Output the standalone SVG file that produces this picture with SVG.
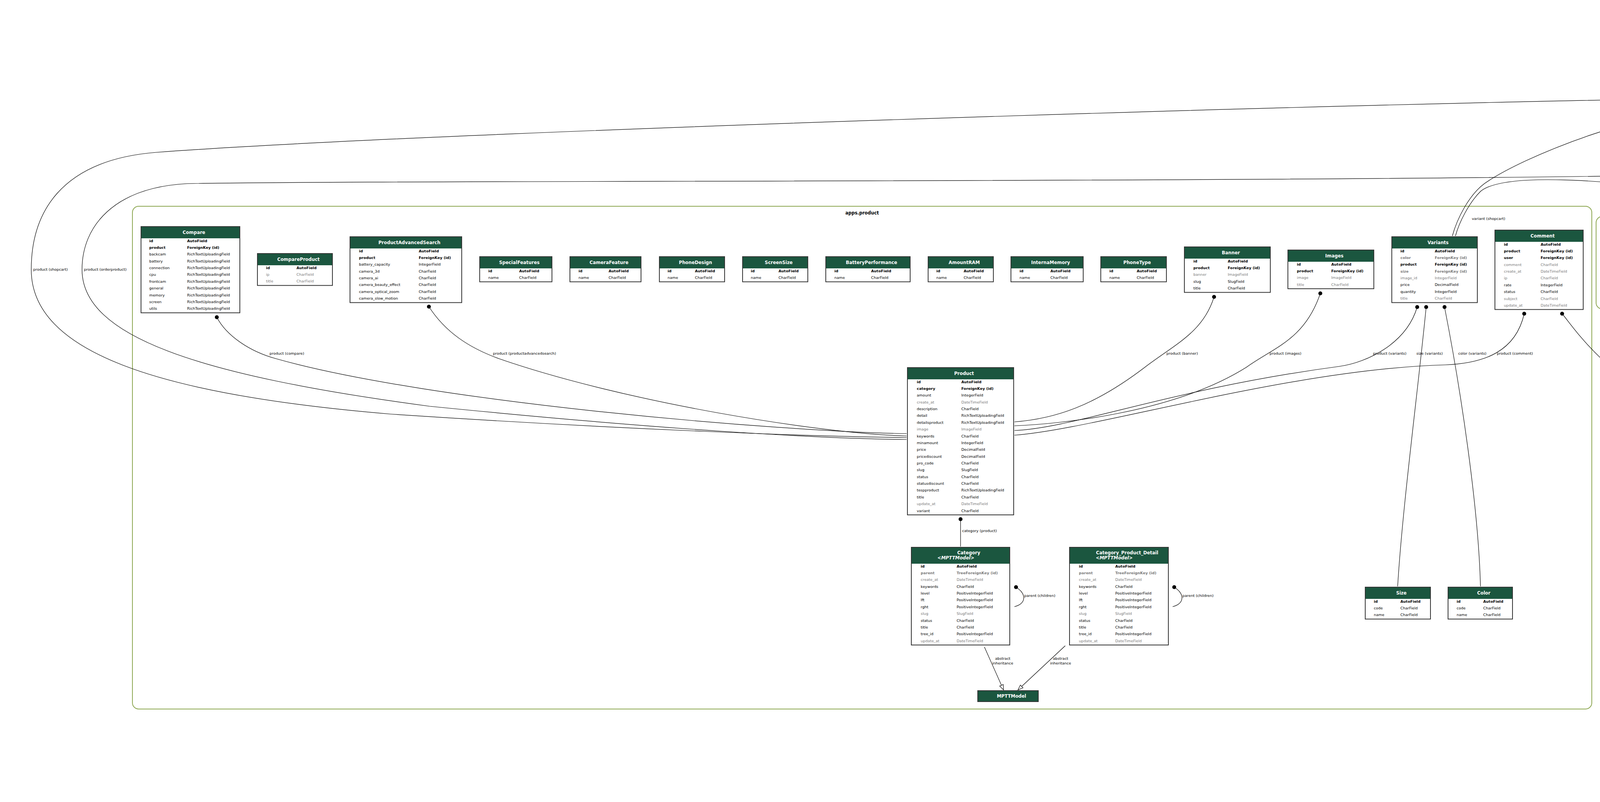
<svg xmlns="http://www.w3.org/2000/svg" width="7843" height="2053" viewBox="0 0 7843 2053">
<defs>
<style>
.r,.rb,.rg,.rbg,.ri,.rig,.rbi,.lb{font-family:"DejaVu Sans",Verdana,sans-serif;font-size:9.5px;fill:#000}
.rb,.rbg,.rbi{font-weight:bold}
.rg,.rbg,.rig{fill:#7b7b7b}
.ri,.rig,.rbi{font-style:italic}
.h{font-family:"DejaVu Sans",Verdana,sans-serif;font-size:11.5px;font-weight:bold;fill:#fff;text-anchor:middle}
.h2{font-family:"DejaVu Sans",Verdana,sans-serif;font-size:12.5px;fill:#fff;text-anchor:middle}
.cl{font-family:"DejaVu Sans",Verdana,sans-serif;font-size:11.5px;font-weight:bold;fill:#000;text-anchor:middle}
.box{fill:#fff;stroke:#333;stroke-width:2}
.hd{fill:#1b563f}
.hbox{fill:#1b563f;stroke:#333;stroke-width:2}
.cluster{fill:none;stroke:#8ea853;stroke-width:2}
.e{fill:none;stroke:#000;stroke-width:1.2}
.lm{text-anchor:middle}
</style>
<marker id="dot" markerUnits="userSpaceOnUse" markerWidth="12" markerHeight="12" refX="6" refY="6" viewBox="0 0 12 12"><circle cx="6" cy="6" r="5" fill="#000"/></marker>
<marker id="inh" markerUnits="userSpaceOnUse" markerWidth="16" markerHeight="12" refX="14" refY="6" orient="auto" viewBox="0 0 16 12"><path d="M1,1 L14,6 L1,11 Z" fill="#fff" stroke="#000" stroke-width="1.2"/></marker>
</defs>
<rect x="0" y="0" width="7843" height="2053" fill="#fff"/>

<g id="clusters">
<rect class="cluster" x="339" y="528" width="3736" height="1287" rx="16"/>
<text class="cl" x="2207" y="549">apps.product</text>
<rect class="cluster" x="4432" y="16" width="823" height="869" rx="16"/>
<text class="cl" x="4843" y="37">apps.order</text>
<rect class="cluster" x="4086" y="554" width="336" height="237" rx="16"/>
<text class="cl" x="4254" y="575">django.contrib.admin</text>
<rect class="cluster" x="5266" y="537" width="294" height="271" rx="16"/>
<text class="cl" x="5413" y="557">apps.account</text>
<rect class="cluster" x="4661" y="960" width="718" height="889" rx="16"/>
<text class="cl" x="5020" y="981">django.contrib.auth</text>
<rect class="cluster" x="4299" y="1887" width="361" height="150" rx="16"/>
<text class="cl" x="4479" y="1906">django.contrib.contenttypes</text>
<rect class="cluster" x="5888" y="114" width="1317" height="659" rx="16"/>
<text class="cl" x="6546" y="135">social_django</text>
<rect class="cluster" x="7217" y="94" width="269" height="272" rx="16"/>
<text class="cl" x="7351" y="114">apps.home</text>
<rect class="cluster" x="7496" y="148" width="332" height="591" rx="16"/>
<text class="cl" x="7662" y="168">django.contrib.sessions</text>
</g>

<g id="edges">
<path class="e" marker-start="url(#dot)" d="M555,812 C580,860 640,900 706,918 C1100,1030 2000,1105 2321,1110"/>
<text class="lb" x="690" y="908">product (compare)</text>
<path class="e" marker-start="url(#dot)" d="M1098,785 C1140,850 1200,890 1277,918 C1600,1030 2100,1110 2321,1116"/>
<text class="lb" x="1262" y="908">product (productadvancedsearch)</text>
<path class="e" marker-start="url(#dot)" d="M3108,760 C3080,850 3010,880 2931,940 C2800,1040 2700,1072 2597,1080"/>
<text class="lb" x="2986" y="908">product (banner)</text>
<path class="e" marker-start="url(#dot)" d="M3380,751 C3340,870 3260,890 3191,940 C3000,1060 2700,1086 2597,1090"/>
<text class="lb" x="3250" y="908">product (images)</text>
<path class="e" marker-start="url(#dot)" d="M3628,786 C3600,880 3500,928 3428,938 C3000,995 2750,1096 2597,1102"/>
<text class="lb" x="3515" y="908">product (variants)</text>
<path class="e" marker-start="url(#dot)" d="M3651,786 C3630,1000 3590,1300 3578,1501"/>
<text class="lb" x="3626" y="908">size (variants)</text>
<path class="e" marker-start="url(#dot)" d="M3698,786 C3740,1000 3785,1300 3790,1501"/>
<text class="lb" x="3733" y="908">color (variants)</text>
<path class="e" marker-start="url(#dot)" d="M3902,803 C3880,900 3800,930 3700,934 C3300,945 2800,1100 2597,1114"/>
<text class="lb" x="3832" y="908">product (comment)</text>
<path class="e" marker-start="url(#dot)" d="M3999,803 C4030,840 4100,950 4270,1040 C4500,1110 4800,1122 4998,1127"/>
<text class="lb" x="4150" y="975">user (comment)</text>
<path class="e" marker-start="url(#dot)" d="M4254,786 L4254,1700 C4254,1820 4300,1890 4378,1938"/>
<text class="lb" x="4259" y="1528">content_type (logentry)</text>
<path class="e" marker-start="url(#dot)" d="M4320,786 C4340,820 4370,840 4393,860 C4550,980 4752,1040 4998,1105"/>
<text class="lb" x="4545" y="945">user (logentry)</text>
<path class="e" marker-start="url(#dot)" d="M4438,252 C4000,250 1200,330 400,390 C150,410 80,550 80,690 C80,900 400,1010 1000,1060 C1600,1100 2100,1118 2321,1120"/>
<text class="lb" x="85" y="693">product (shopcart)</text>
<path class="e" marker-start="url(#dot)" d="M4769,368 C4730,420 4710,438 4660,441 C3500,470 1000,460 480,470 C290,480 210,580 210,690 C210,860 500,960 1100,1040 C1700,1100 2100,1123 2321,1125"/>
<text class="lb" x="215" y="693">product (orderproduct)</text>
<path class="e" marker-start="url(#dot)" d="M4438,267 C4200,280 3900,400 3800,470 C3760,500 3730,560 3718,604"/>
<text class="lb" x="3768" y="563">variant (shopcart)</text>
<path class="e" marker-start="url(#dot)" d="M4769,368 C4720,440 4650,470 4600,474 C4500,490 4440,500 4400,495 C4100,460 3850,440 3790,490 C3760,520 3735,570 3726,604"/>
<text class="lb" x="4640" y="471">variant (orderproduct)</text>
<path class="e" marker-start="url(#dot)" d="M4595,317 C4640,420 4720,458 4800,456 C4900,454 4980,465 5010,500 C5080,600 5113,800 5113,1011"/>
<text class="lb" x="5112" y="692">user (shopcart)</text>
<path class="e" marker-start="url(#dot)" d="M4842,368 C4845,420 4850,470 4853,509"/>
<text class="lb" x="4856" y="471">order (orderproduct)</text>
<path class="e" marker-start="url(#dot)" d="M4898,368 C4930,420 4960,440 5010,450 C5300,475 5590,560 5590,760 C5590,960 5400,1070 5219,1095"/>
<text class="lb" x="5595" y="850">user (orderproduct)</text>
<path class="e" marker-start="url(#dot)" d="M5250,263 C5450,300 5660,420 5660,700 C5660,960 5420,1080 5219,1103"/>
<text class="lb" x="5665" y="640">user (orderwaitingpayment)</text>
<path class="e" marker-start="url(#dot)" d="M4972,881 C4990,920 5030,980 5042,1011"/>
<text class="lb" x="4992" y="907">user (order)</text>
<path class="e" d="M5338,796 C5300,850 5230,950 5192,1011"/>
<text class="lb" x="5262" y="907">user (userprofile)</text>
<path class="e" marker-start="url(#dot)" d="M6406,734 C6000,900 5500,1060 5219,1117"/>
<text class="lb" x="5790" y="945">user (social_auth)</text>
<path class="e" marker-start="url(#dot)" d="M4966,1829 C4800,1880 4650,1920 4578,1946"/>
<text class="lb" x="4855" y="1872">content_type (permission)</text>
<path class="e" marker-start="url(#dot)" d="M2459,1329 L2459,1399"/>
<text class="lb" x="2463" y="1362">category (product)</text>
<path class="e" marker-start="url(#dot)" d="M2601,1503 C2628,1520 2628,1545 2597,1553"/>
<text class="lb" x="2622" y="1528">parent (children)</text>
<path class="e" marker-start="url(#dot)" d="M3006,1503 C3033,1520 3033,1545 3002,1553"/>
<text class="lb" x="3027" y="1528">parent (children)</text>
<path class="e" marker-start="url(#dot)" marker-end="url(#dot)" d="M5109,1257 L5109,1484"/>
<text class="lb" x="5113" y="1362">groups (user)</text>
<path class="e" marker-start="url(#dot)" marker-end="url(#dot)" d="M5171,1257 C5200,1330 5230,1420 5240,1500 C5260,1600 5260,1660 5197,1725"/>
<text class="lb" x="5252" y="1528">user_permissions (user)</text>
<path class="e" marker-start="url(#dot)" marker-end="url(#dot)" d="M5109,1570 L5109,1723"/>
<text class="lb" x="5113" y="1695">permissions (group)</text>
<path class="e" marker-end="url(#inh)" d="M2520,1656 L2569,1766"/>
<text class="lb lm" x="2567" y="1689">abstract</text><text class="lb lm" x="2567" y="1701">inheritance</text>
<path class="e" marker-end="url(#inh)" d="M2727,1653 L2606,1766"/>
<text class="lb lm" x="2715" y="1689">abstract</text><text class="lb lm" x="2715" y="1701">inheritance</text>
<path class="e" marker-end="url(#inh)" d="M5024,1252 L4913,1417"/>
<text class="lb lm" x="4979" y="1356">abstract</text><text class="lb lm" x="4979" y="1368">inheritance</text>
<path class="e" marker-end="url(#inh)" d="M4673,1616 L4416,1769"/>
<text class="lb lm" x="4576" y="1689">abstract</text><text class="lb lm" x="4576" y="1701">inheritance</text>
<path class="e" marker-end="url(#inh)" d="M4715,1641 L4591,1769"/>
<text class="lb lm" x="4693" y="1689">abstract</text><text class="lb lm" x="4693" y="1701">inheritance</text>
<path class="e" marker-end="url(#inh)" d="M7014,334 C6980,450 6850,540 6676,621"/>
<text class="lb lm" x="6931" y="465">abstract</text><text class="lb lm" x="6931" y="477">inheritance</text>
<path class="e" marker-end="url(#inh)" d="M7662,301 L7662,655"/>
<text class="lb lm" x="7688" y="465">abstract</text><text class="lb lm" x="7688" y="477">inheritance</text>
</g>

<g id="node-Compare">
<rect class="box" x="361" y="580" width="253" height="220.7"/><rect class="hd" x="362" y="581" width="251" height="29"/>
<text class="h" x="496.5" y="598.5">Compare</text>
<text class="rb" y="619.5"><tspan x="382">id</tspan><tspan x="479">AutoField</tspan></text>
<text class="rb" y="636.9"><tspan x="382">product</tspan><tspan x="479">ForeignKey (id)</tspan></text>
<text class="r" y="654.2"><tspan x="382">backcam</tspan><tspan x="479">RichTextUploadingField</tspan></text>
<text class="r" y="671.6"><tspan x="382">battery</tspan><tspan x="479">RichTextUploadingField</tspan></text>
<text class="r" y="689.0"><tspan x="382">connection</tspan><tspan x="479">RichTextUploadingField</tspan></text>
<text class="r" y="706.4"><tspan x="382">cpu</tspan><tspan x="479">RichTextUploadingField</tspan></text>
<text class="r" y="723.7"><tspan x="382">frontcam</tspan><tspan x="479">RichTextUploadingField</tspan></text>
<text class="r" y="741.1"><tspan x="382">general</tspan><tspan x="479">RichTextUploadingField</tspan></text>
<text class="r" y="758.5"><tspan x="382">memory</tspan><tspan x="479">RichTextUploadingField</tspan></text>
<text class="r" y="775.8"><tspan x="382">screen</tspan><tspan x="479">RichTextUploadingField</tspan></text>
<text class="r" y="793.2"><tspan x="382">utils</tspan><tspan x="479">RichTextUploadingField</tspan></text>
</g>
<g id="node-CompareProduct">
<rect class="box" x="659" y="649" width="192" height="81.7"/><rect class="hd" x="660" y="650" width="190" height="29"/>
<text class="h" x="764" y="667.5">CompareProduct</text>
<text class="rb" y="688.5"><tspan x="681">id</tspan><tspan x="759">AutoField</tspan></text>
<text class="rg" y="705.9"><tspan x="681">ip</tspan><tspan x="759">CharField</tspan></text>
<text class="rg" y="723.2"><tspan x="681">title</tspan><tspan x="759">CharField</tspan></text>
</g>
<g id="node-ProductAdvancedSearch">
<rect class="box" x="896" y="606" width="286" height="168.6"/><rect class="hd" x="897" y="607" width="284" height="29"/>
<text class="h" x="1048" y="624.5">ProductAdvancedSearch</text>
<text class="rb" y="645.5"><tspan x="919">id</tspan><tspan x="1072">AutoField</tspan></text>
<text class="rb" y="662.9"><tspan x="919">product</tspan><tspan x="1072">ForeignKey (id)</tspan></text>
<text class="r" y="680.2"><tspan x="919">battery_capacity</tspan><tspan x="1072">IntegerField</tspan></text>
<text class="r" y="697.6"><tspan x="919">camera_3d</tspan><tspan x="1072">CharField</tspan></text>
<text class="r" y="715.0"><tspan x="919">camera_ai</tspan><tspan x="1072">CharField</tspan></text>
<text class="r" y="732.4"><tspan x="919">camera_beauty_effect</tspan><tspan x="1072">CharField</tspan></text>
<text class="r" y="749.7"><tspan x="919">camera_optical_zoom</tspan><tspan x="1072">CharField</tspan></text>
<text class="r" y="767.1"><tspan x="919">camera_slow_motion</tspan><tspan x="1072">CharField</tspan></text>
</g>
<g id="node-SpecialFeatures">
<rect class="box" x="1228" y="657" width="185" height="64.4"/><rect class="hd" x="1229" y="658" width="183" height="29"/>
<text class="h" x="1329.5" y="675.5">SpecialFeatures</text>
<text class="rb" y="696.5"><tspan x="1250">id</tspan><tspan x="1329">AutoField</tspan></text>
<text class="r" y="713.9"><tspan x="1250">name</tspan><tspan x="1329">CharField</tspan></text>
</g>
<g id="node-CameraFeature">
<rect class="box" x="1459" y="657" width="182" height="64.4"/><rect class="hd" x="1460" y="658" width="180" height="29"/>
<text class="h" x="1559" y="675.5">CameraFeature</text>
<text class="rb" y="696.5"><tspan x="1481">id</tspan><tspan x="1558">AutoField</tspan></text>
<text class="r" y="713.9"><tspan x="1481">name</tspan><tspan x="1558">CharField</tspan></text>
</g>
<g id="node-PhoneDesign">
<rect class="box" x="1688" y="657" width="167" height="64.4"/><rect class="hd" x="1689" y="658" width="165" height="29"/>
<text class="h" x="1780.5" y="675.5">PhoneDesign</text>
<text class="rb" y="696.5"><tspan x="1709">id</tspan><tspan x="1779">AutoField</tspan></text>
<text class="r" y="713.9"><tspan x="1709">name</tspan><tspan x="1779">CharField</tspan></text>
</g>
<g id="node-ScreenSize">
<rect class="box" x="1901" y="657" width="167" height="64.4"/><rect class="hd" x="1902" y="658" width="165" height="29"/>
<text class="h" x="1993.5" y="675.5">ScreenSize</text>
<text class="rb" y="696.5"><tspan x="1922">id</tspan><tspan x="1993">AutoField</tspan></text>
<text class="r" y="713.9"><tspan x="1922">name</tspan><tspan x="1993">CharField</tspan></text>
</g>
<g id="node-BatteryPerformance">
<rect class="box" x="2114" y="657" width="216" height="64.4"/><rect class="hd" x="2115" y="658" width="214" height="29"/>
<text class="h" x="2231" y="675.5">BatteryPerformance</text>
<text class="rb" y="696.5"><tspan x="2136">id</tspan><tspan x="2230">AutoField</tspan></text>
<text class="r" y="713.9"><tspan x="2136">name</tspan><tspan x="2230">CharField</tspan></text>
</g>
<g id="node-AmountRAM">
<rect class="box" x="2376" y="657" width="167" height="64.4"/><rect class="hd" x="2377" y="658" width="165" height="29"/>
<text class="h" x="2468.5" y="675.5">AmountRAM</text>
<text class="rb" y="696.5"><tspan x="2397">id</tspan><tspan x="2467">AutoField</tspan></text>
<text class="r" y="713.9"><tspan x="2397">name</tspan><tspan x="2467">CharField</tspan></text>
</g>
<g id="node-InternaMemory">
<rect class="box" x="2588" y="657" width="185" height="64.4"/><rect class="hd" x="2589" y="658" width="183" height="29"/>
<text class="h" x="2689.5" y="675.5">InternaMemory</text>
<text class="rb" y="696.5"><tspan x="2610">id</tspan><tspan x="2689">AutoField</tspan></text>
<text class="r" y="713.9"><tspan x="2610">name</tspan><tspan x="2689">CharField</tspan></text>
</g>
<g id="node-PhoneType">
<rect class="box" x="2818" y="657" width="168" height="64.4"/><rect class="hd" x="2819" y="658" width="166" height="29"/>
<text class="h" x="2911" y="675.5">PhoneType</text>
<text class="rb" y="696.5"><tspan x="2840">id</tspan><tspan x="2910">AutoField</tspan></text>
<text class="r" y="713.9"><tspan x="2840">name</tspan><tspan x="2910">CharField</tspan></text>
</g>
<g id="node-Banner">
<rect class="box" x="3032" y="632" width="220" height="116.5"/><rect class="hd" x="3033" y="633" width="218" height="29"/>
<text class="h" x="3151" y="650.5">Banner</text>
<text class="rb" y="671.5"><tspan x="3055">id</tspan><tspan x="3143">AutoField</tspan></text>
<text class="rb" y="688.9"><tspan x="3055">product</tspan><tspan x="3143">ForeignKey (id)</tspan></text>
<text class="rg" y="706.2"><tspan x="3055">banner</tspan><tspan x="3143">ImageField</tspan></text>
<text class="r" y="723.6"><tspan x="3055">slug</tspan><tspan x="3143">SlugField</tspan></text>
<text class="r" y="741.0"><tspan x="3055">title</tspan><tspan x="3143">CharField</tspan></text>
</g>
<g id="node-Images">
<rect class="box" x="3297" y="640" width="220" height="99.1"/><rect class="hd" x="3298" y="641" width="218" height="29"/>
<text class="h" x="3416" y="658.5">Images</text>
<text class="rb" y="679.5"><tspan x="3320">id</tspan><tspan x="3408">AutoField</tspan></text>
<text class="rb" y="696.9"><tspan x="3320">product</tspan><tspan x="3408">ForeignKey (id)</tspan></text>
<text class="rg" y="714.2"><tspan x="3320">image</tspan><tspan x="3408">ImageField</tspan></text>
<text class="rg" y="731.6"><tspan x="3320">title</tspan><tspan x="3408">CharField</tspan></text>
</g>
<g id="node-Variants">
<rect class="box" x="3563" y="606" width="219" height="168.6"/><rect class="hd" x="3564" y="607" width="217" height="29"/>
<text class="h" x="3681.5" y="624.5">Variants</text>
<text class="rb" y="645.5"><tspan x="3585">id</tspan><tspan x="3673">AutoField</tspan></text>
<text class="rbg" y="662.9"><tspan x="3585">color</tspan><tspan x="3673">ForeignKey (id)</tspan></text>
<text class="rb" y="680.2"><tspan x="3585">product</tspan><tspan x="3673">ForeignKey (id)</tspan></text>
<text class="rbg" y="697.6"><tspan x="3585">size</tspan><tspan x="3673">ForeignKey (id)</tspan></text>
<text class="rg" y="715.0"><tspan x="3585">image_id</tspan><tspan x="3673">IntegerField</tspan></text>
<text class="r" y="732.4"><tspan x="3585">price</tspan><tspan x="3673">DecimalField</tspan></text>
<text class="r" y="749.7"><tspan x="3585">quantity</tspan><tspan x="3673">IntegerField</tspan></text>
<text class="rg" y="767.1"><tspan x="3585">title</tspan><tspan x="3673">CharField</tspan></text>
</g>
<g id="node-Comment">
<rect class="box" x="3827" y="589" width="226" height="203.3"/><rect class="hd" x="3828" y="590" width="224" height="29"/>
<text class="h" x="3949" y="607.5">Comment</text>
<text class="rb" y="628.5"><tspan x="3850">id</tspan><tspan x="3944">AutoField</tspan></text>
<text class="rb" y="645.9"><tspan x="3850">product</tspan><tspan x="3944">ForeignKey (id)</tspan></text>
<text class="rb" y="663.2"><tspan x="3850">user</tspan><tspan x="3944">ForeignKey (id)</tspan></text>
<text class="rg" y="680.6"><tspan x="3850">comment</tspan><tspan x="3944">CharField</tspan></text>
<text class="rg" y="698.0"><tspan x="3850">create_at</tspan><tspan x="3944">DateTimeField</tspan></text>
<text class="rg" y="715.4"><tspan x="3850">ip</tspan><tspan x="3944">CharField</tspan></text>
<text class="r" y="732.7"><tspan x="3850">rate</tspan><tspan x="3944">IntegerField</tspan></text>
<text class="r" y="750.1"><tspan x="3850">status</tspan><tspan x="3944">CharField</tspan></text>
<text class="rg" y="767.5"><tspan x="3850">subject</tspan><tspan x="3944">CharField</tspan></text>
<text class="rg" y="784.8"><tspan x="3850">update_at</tspan><tspan x="3944">DateTimeField</tspan></text>
</g>
<g id="node-Product">
<rect class="box" x="2323" y="941" width="272" height="377"/><rect class="hd" x="2324" y="942" width="270" height="29"/>
<text class="h" x="2468" y="959.5">Product</text>
<text class="rb" y="980.5"><tspan x="2347">id</tspan><tspan x="2461">AutoField</tspan></text>
<text class="rb" y="997.9"><tspan x="2347">category</tspan><tspan x="2461">ForeignKey (id)</tspan></text>
<text class="r" y="1015.2"><tspan x="2347">amount</tspan><tspan x="2461">IntegerField</tspan></text>
<text class="rg" y="1032.6"><tspan x="2347">create_at</tspan><tspan x="2461">DateTimeField</tspan></text>
<text class="r" y="1050.0"><tspan x="2347">description</tspan><tspan x="2461">CharField</tspan></text>
<text class="r" y="1067.4"><tspan x="2347">detail</tspan><tspan x="2461">RichTextUploadingField</tspan></text>
<text class="r" y="1084.7"><tspan x="2347">detailsproduct</tspan><tspan x="2461">RichTextUploadingField</tspan></text>
<text class="rg" y="1102.1"><tspan x="2347">image</tspan><tspan x="2461">ImageField</tspan></text>
<text class="r" y="1119.5"><tspan x="2347">keywords</tspan><tspan x="2461">CharField</tspan></text>
<text class="r" y="1136.8"><tspan x="2347">minamount</tspan><tspan x="2461">IntegerField</tspan></text>
<text class="r" y="1154.2"><tspan x="2347">price</tspan><tspan x="2461">DecimalField</tspan></text>
<text class="r" y="1171.6"><tspan x="2347">pricediscount</tspan><tspan x="2461">DecimalField</tspan></text>
<text class="r" y="1188.9"><tspan x="2347">pro_code</tspan><tspan x="2461">CharField</tspan></text>
<text class="r" y="1206.3"><tspan x="2347">slug</tspan><tspan x="2461">SlugField</tspan></text>
<text class="r" y="1223.7"><tspan x="2347">status</tspan><tspan x="2461">CharField</tspan></text>
<text class="r" y="1241.1"><tspan x="2347">statusdiscount</tspan><tspan x="2461">CharField</tspan></text>
<text class="r" y="1258.4"><tspan x="2347">tespproduct</tspan><tspan x="2461">RichTextUploadingField</tspan></text>
<text class="r" y="1275.8"><tspan x="2347">title</tspan><tspan x="2461">CharField</tspan></text>
<text class="rg" y="1293.2"><tspan x="2347">update_at</tspan><tspan x="2461">DateTimeField</tspan></text>
<text class="r" y="1310.5"><tspan x="2347">variant</tspan><tspan x="2461">CharField</tspan></text>
</g>
<g id="node-Category">
<rect class="box" x="2333" y="1401" width="252" height="250.1"/><rect class="hd" x="2334" y="1402" width="250" height="41"/>
<text class="h" x="2480" y="1419">Category</text>
<text class="h" x="2447" y="1432">&lt;<tspan font-style="italic">MPTTModel</tspan>&gt;</text>
<text class="rb" y="1452.5"><tspan x="2357">id</tspan><tspan x="2449">AutoField</tspan></text>
<text class="rbg" y="1469.9"><tspan x="2357">parent</tspan><tspan x="2449">TreeForeignKey (id)</tspan></text>
<text class="rg" y="1487.2"><tspan x="2357">create_at</tspan><tspan x="2449">DateTimeField</tspan></text>
<text class="r" y="1504.6"><tspan x="2357">keywords</tspan><tspan x="2449">CharField</tspan></text>
<text class="r" y="1522.0"><tspan x="2357">level</tspan><tspan x="2449">PositiveIntegerField</tspan></text>
<text class="r" y="1539.4"><tspan x="2357">lft</tspan><tspan x="2449">PositiveIntegerField</tspan></text>
<text class="r" y="1556.7"><tspan x="2357">rght</tspan><tspan x="2449">PositiveIntegerField</tspan></text>
<text class="rg" y="1574.1"><tspan x="2357">slug</tspan><tspan x="2449">SlugField</tspan></text>
<text class="r" y="1591.5"><tspan x="2357">status</tspan><tspan x="2449">CharField</tspan></text>
<text class="r" y="1608.8"><tspan x="2357">title</tspan><tspan x="2449">CharField</tspan></text>
<text class="r" y="1626.2"><tspan x="2357">tree_id</tspan><tspan x="2449">PositiveIntegerField</tspan></text>
<text class="rg" y="1643.6"><tspan x="2357">update_at</tspan><tspan x="2449">DateTimeField</tspan></text>
</g>
<g id="node-Category_Product_Detail">
<rect class="box" x="2738" y="1401" width="253" height="250.1"/><rect class="hd" x="2739" y="1402" width="251" height="41"/>
<text class="h" x="2885.5" y="1419">Category_Product_Detail</text>
<text class="h" x="2852.5" y="1432">&lt;<tspan font-style="italic">MPTTModel</tspan>&gt;</text>
<text class="rb" y="1452.5"><tspan x="2762">id</tspan><tspan x="2855">AutoField</tspan></text>
<text class="rbg" y="1469.9"><tspan x="2762">parent</tspan><tspan x="2855">TreeForeignKey (id)</tspan></text>
<text class="rg" y="1487.2"><tspan x="2762">create_at</tspan><tspan x="2855">DateTimeField</tspan></text>
<text class="r" y="1504.6"><tspan x="2762">keywords</tspan><tspan x="2855">CharField</tspan></text>
<text class="r" y="1522.0"><tspan x="2762">level</tspan><tspan x="2855">PositiveIntegerField</tspan></text>
<text class="r" y="1539.4"><tspan x="2762">lft</tspan><tspan x="2855">PositiveIntegerField</tspan></text>
<text class="r" y="1556.7"><tspan x="2762">rght</tspan><tspan x="2855">PositiveIntegerField</tspan></text>
<text class="rg" y="1574.1"><tspan x="2762">slug</tspan><tspan x="2855">SlugField</tspan></text>
<text class="r" y="1591.5"><tspan x="2762">status</tspan><tspan x="2855">CharField</tspan></text>
<text class="r" y="1608.8"><tspan x="2762">title</tspan><tspan x="2855">CharField</tspan></text>
<text class="r" y="1626.2"><tspan x="2762">tree_id</tspan><tspan x="2855">PositiveIntegerField</tspan></text>
<text class="rg" y="1643.6"><tspan x="2762">update_at</tspan><tspan x="2855">DateTimeField</tspan></text>
</g>
<g id="node-MPTTModel">
<rect class="hbox" x="2503" y="1768" width="155" height="28"/>
<text class="h" x="2589.5" y="1786">MPTTModel</text>
</g>
<g id="node-Size">
<rect class="box" x="3495" y="1503" width="167" height="81.7"/><rect class="hd" x="3496" y="1504" width="165" height="29"/>
<text class="h" x="3587.5" y="1521.5">Size</text>
<text class="rb" y="1542.5"><tspan x="3517">id</tspan><tspan x="3585">AutoField</tspan></text>
<text class="r" y="1559.9"><tspan x="3517">code</tspan><tspan x="3585">CharField</tspan></text>
<text class="r" y="1577.2"><tspan x="3517">name</tspan><tspan x="3585">CharField</tspan></text>
</g>
<g id="node-Color">
<rect class="box" x="3707" y="1503" width="165" height="81.7"/><rect class="hd" x="3708" y="1504" width="163" height="29"/>
<text class="h" x="3798.5" y="1521.5">Color</text>
<text class="rb" y="1542.5"><tspan x="3729">id</tspan><tspan x="3797">AutoField</tspan></text>
<text class="r" y="1559.9"><tspan x="3729">code</tspan><tspan x="3797">CharField</tspan></text>
<text class="r" y="1577.2"><tspan x="3729">name</tspan><tspan x="3797">CharField</tspan></text>
</g>

<g id="node-ShopCart">
<rect class="box" x="4454" y="189" width="220" height="116.5"/><rect class="hd" x="4455" y="190" width="218" height="29"/>
<text class="h" x="4573" y="207.5">ShopCart</text>
<text class="rb" y="228.5"><tspan x="4477">id</tspan><tspan x="4566">AutoField</tspan></text>
<text class="rb" y="245.9"><tspan x="4477">product</tspan><tspan x="4566">ForeignKey (id)</tspan></text>
<text class="rb" y="263.2"><tspan x="4477">user</tspan><tspan x="4566">ForeignKey (id)</tspan></text>
<text class="rbg" y="280.6"><tspan x="4477">variant</tspan><tspan x="4566">ForeignKey (id)</tspan></text>
<text class="r" y="298.0"><tspan x="4477">quantity</tspan><tspan x="4566">IntegerField</tspan></text>
</g>
<g id="node-OrderProduct">
<rect class="box" x="4720" y="137" width="225" height="220.7"/><rect class="hd" x="4721" y="138" width="223" height="29"/>
<text class="h" x="4841.5" y="155.5">OrderProduct</text>
<text class="rb" y="176.5"><tspan x="4742">id</tspan><tspan x="4837">AutoField</tspan></text>
<text class="rb" y="193.9"><tspan x="4742">order</tspan><tspan x="4837">ForeignKey (id)</tspan></text>
<text class="rb" y="211.2"><tspan x="4742">product</tspan><tspan x="4837">ForeignKey (id)</tspan></text>
<text class="rb" y="228.6"><tspan x="4742">user</tspan><tspan x="4837">ForeignKey (id)</tspan></text>
<text class="rbg" y="246.0"><tspan x="4742">variant</tspan><tspan x="4837">ForeignKey (id)</tspan></text>
<text class="r" y="263.4"><tspan x="4742">amount</tspan><tspan x="4837">FloatField</tspan></text>
<text class="rg" y="280.7"><tspan x="4742">create_at</tspan><tspan x="4837">DateTimeField</tspan></text>
<text class="r" y="298.1"><tspan x="4742">price</tspan><tspan x="4837">FloatField</tspan></text>
<text class="r" y="315.5"><tspan x="4742">quantity</tspan><tspan x="4837">IntegerField</tspan></text>
<text class="r" y="332.8"><tspan x="4742">status</tspan><tspan x="4837">CharField</tspan></text>
<text class="rg" y="350.2"><tspan x="4742">update_at</tspan><tspan x="4837">DateTimeField</tspan></text>
</g>
<g id="node-OrderWaitingPayment">
<rect class="box" x="4991" y="68" width="243" height="359.7"/><rect class="hd" x="4992" y="69" width="241" height="29"/>
<text class="h" x="5121.5" y="86.5">OrderWaitingPayment</text>
<text class="rb" y="107.5"><tspan x="5013">id</tspan><tspan x="5124">AutoField</tspan></text>
<text class="rb" y="124.9"><tspan x="5013">user</tspan><tspan x="5124">ForeignKey (id)</tspan></text>
<text class="rg" y="142.2"><tspan x="5013">address</tspan><tspan x="5124">CharField</tspan></text>
<text class="rg" y="159.6"><tspan x="5013">adminnote</tspan><tspan x="5124">CharField</tspan></text>
<text class="r" y="177.0"><tspan x="5013">code</tspan><tspan x="5124">CharField</tspan></text>
<text class="rg" y="194.4"><tspan x="5013">create_at</tspan><tspan x="5124">DateTimeField</tspan></text>
<text class="rg" y="211.7"><tspan x="5013">delivery</tspan><tspan x="5124">CharField</tspan></text>
<text class="rg" y="229.1"><tspan x="5013">district</tspan><tspan x="5124">CharField</tspan></text>
<text class="r" y="246.5"><tspan x="5013">first_name</tspan><tspan x="5124">CharField</tspan></text>
<text class="rg" y="263.8"><tspan x="5013">ip</tspan><tspan x="5124">CharField</tspan></text>
<text class="r" y="281.2"><tspan x="5013">last_name</tspan><tspan x="5124">CharField</tspan></text>
<text class="rg" y="298.6"><tspan x="5013">phone</tspan><tspan x="5124">CharField</tspan></text>
<text class="rg" y="315.9"><tspan x="5013">province</tspan><tspan x="5124">CharField</tspan></text>
<text class="r" y="333.3"><tspan x="5013">status</tspan><tspan x="5124">CharField</tspan></text>
<text class="r" y="350.7"><tspan x="5013">status_pay</tspan><tspan x="5124">CharField</tspan></text>
<text class="r" y="368.1"><tspan x="5013">total</tspan><tspan x="5124">IntegerField</tspan></text>
<text class="r" y="385.4"><tspan x="5013">transport_fee</tspan><tspan x="5124">IntegerField</tspan></text>
<text class="rg" y="402.8"><tspan x="5013">update_at</tspan><tspan x="5124">DateTimeField</tspan></text>
<text class="rg" y="420.2"><tspan x="5013">ward</tspan><tspan x="5124">CharField</tspan></text>
</g>
<g id="node-Order">
<rect class="box" x="4748" y="511" width="242" height="359.7"/><rect class="hd" x="4749" y="512" width="240" height="29"/>
<text class="h" x="4878" y="529.5">Order</text>
<text class="rb" y="550.5"><tspan x="4769">id</tspan><tspan x="4881">AutoField</tspan></text>
<text class="rb" y="567.9"><tspan x="4769">user</tspan><tspan x="4881">ForeignKey (id)</tspan></text>
<text class="rg" y="585.2"><tspan x="4769">address</tspan><tspan x="4881">CharField</tspan></text>
<text class="rg" y="602.6"><tspan x="4769">adminnote</tspan><tspan x="4881">CharField</tspan></text>
<text class="r" y="620.0"><tspan x="4769">code</tspan><tspan x="4881">CharField</tspan></text>
<text class="rg" y="637.4"><tspan x="4769">create_at</tspan><tspan x="4881">DateTimeField</tspan></text>
<text class="rg" y="654.7"><tspan x="4769">delivery</tspan><tspan x="4881">CharField</tspan></text>
<text class="rg" y="672.1"><tspan x="4769">district</tspan><tspan x="4881">CharField</tspan></text>
<text class="r" y="689.5"><tspan x="4769">first_name</tspan><tspan x="4881">CharField</tspan></text>
<text class="rg" y="706.8"><tspan x="4769">ip</tspan><tspan x="4881">CharField</tspan></text>
<text class="r" y="724.2"><tspan x="4769">last_name</tspan><tspan x="4881">CharField</tspan></text>
<text class="rg" y="741.6"><tspan x="4769">phone</tspan><tspan x="4881">CharField</tspan></text>
<text class="rg" y="758.9"><tspan x="4769">province</tspan><tspan x="4881">CharField</tspan></text>
<text class="r" y="776.3"><tspan x="4769">status</tspan><tspan x="4881">CharField</tspan></text>
<text class="r" y="793.7"><tspan x="4769">status_pay</tspan><tspan x="4881">CharField</tspan></text>
<text class="r" y="811.1"><tspan x="4769">total</tspan><tspan x="4881">IntegerField</tspan></text>
<text class="r" y="828.4"><tspan x="4769">transport_fee</tspan><tspan x="4881">IntegerField</tspan></text>
<text class="rg" y="845.8"><tspan x="4769">update_at</tspan><tspan x="4881">DateTimeField</tspan></text>
<text class="rg" y="863.2"><tspan x="4769">ward</tspan><tspan x="4881">CharField</tspan></text>
</g>
<g id="node-LogEntry">
<rect class="box" x="4107" y="605" width="293" height="168.6"/><rect class="hd" x="4108" y="606" width="291" height="29"/>
<text class="h" x="4262.5" y="623.5">LogEntry</text>
<text class="rb" y="644.5"><tspan x="4130">id</tspan><tspan x="4257">AutoField</tspan></text>
<text class="rbg" y="661.9"><tspan x="4130">content_type</tspan><tspan x="4257">ForeignKey (id)</tspan></text>
<text class="rb" y="679.2"><tspan x="4130">user</tspan><tspan x="4257">ForeignKey (id)</tspan></text>
<text class="r" y="696.6"><tspan x="4130">action_flag</tspan><tspan x="4257">PositiveSmallIntegerField</tspan></text>
<text class="r" y="714.0"><tspan x="4130">action_time</tspan><tspan x="4257">DateTimeField</tspan></text>
<text class="rg" y="731.4"><tspan x="4130">change_message</tspan><tspan x="4257">TextField</tspan></text>
<text class="rg" y="748.7"><tspan x="4130">object_id</tspan><tspan x="4257">TextField</tspan></text>
<text class="r" y="766.1"><tspan x="4130">object_repr</tspan><tspan x="4257">CharField</tspan></text>
</g>
<g id="node-UserProfile">
<rect class="box" x="5288" y="589" width="252" height="203.3"/><rect class="hd" x="5289" y="590" width="250" height="29"/>
<text class="h" x="5423" y="607.5">UserProfile</text>
<text class="rb" y="628.5"><tspan x="5310">id</tspan><tspan x="5405">AutoField</tspan></text>
<text class="rb" y="645.9"><tspan x="5310">user</tspan><tspan x="5405">OneToOneField (id)</tspan></text>
<text class="rg" y="663.2"><tspan x="5310">address</tspan><tspan x="5405">CharField</tspan></text>
<text class="rg" y="680.6"><tspan x="5310">city</tspan><tspan x="5405">CharField</tspan></text>
<text class="rg" y="698.0"><tspan x="5310">country</tspan><tspan x="5405">CharField</tspan></text>
<text class="rg" y="715.4"><tspan x="5310">email</tspan><tspan x="5405">EmailField</tspan></text>
<text class="rg" y="732.7"><tspan x="5310">first_name</tspan><tspan x="5405">CharField</tspan></text>
<text class="rg" y="750.1"><tspan x="5310">image</tspan><tspan x="5405">ImageField</tspan></text>
<text class="rg" y="767.5"><tspan x="5310">last_name</tspan><tspan x="5405">CharField</tspan></text>
<text class="rg" y="784.8"><tspan x="5310">phone</tspan><tspan x="5405">CharField</tspan></text>
</g>
<g id="node-User">
<rect class="box" x="5000" y="1013" width="217" height="232.7"/><rect class="hd" x="5001" y="1014" width="215" height="41"/>
<text class="h" x="5129.5" y="1031">User</text>
<text class="h" x="5096.5" y="1044">&lt;<tspan font-style="italic">AbstractUser</tspan>&gt;</text>
<text class="rb" y="1064.5"><tspan x="5023">id</tspan><tspan x="5127">AutoField</tspan></text>
<text class="ri" y="1081.9"><tspan x="5023">date_joined</tspan><tspan x="5127">DateTimeField</tspan></text>
<text class="rig" y="1099.2"><tspan x="5023">email</tspan><tspan x="5127">EmailField</tspan></text>
<text class="rig" y="1116.6"><tspan x="5023">first_name</tspan><tspan x="5127">CharField</tspan></text>
<text class="ri" y="1134.0"><tspan x="5023">is_active</tspan><tspan x="5127">BooleanField</tspan></text>
<text class="ri" y="1151.4"><tspan x="5023">is_staff</tspan><tspan x="5127">BooleanField</tspan></text>
<text class="ri" y="1168.7"><tspan x="5023">is_superuser</tspan><tspan x="5127">BooleanField</tspan></text>
<text class="rig" y="1186.1"><tspan x="5023">last_login</tspan><tspan x="5127">DateTimeField</tspan></text>
<text class="rig" y="1203.5"><tspan x="5023">last_name</tspan><tspan x="5127">CharField</tspan></text>
<text class="ri" y="1220.8"><tspan x="5023">password</tspan><tspan x="5127">CharField</tspan></text>
<text class="ri" y="1238.2"><tspan x="5023">username</tspan><tspan x="5127">CharField</tspan></text>
</g>
<g id="node-AbstractUser">
<rect class="box" x="4684" y="1419" width="295" height="214.3"/><rect class="hd" x="4685" y="1420" width="293" height="40"/>
<text class="h" x="4852.5" y="1436">AbstractUser</text>
<text class="h" x="4819.5" y="1449">&lt;<tspan font-style="italic">AbstractBaseUser,PermissionsMixin</tspan>&gt;</text>
<text class="r" y="1469.5"><tspan x="4706">date_joined</tspan><tspan x="4849">DateTimeField</tspan></text>
<text class="rg" y="1486.9"><tspan x="4706">email</tspan><tspan x="4849">EmailField</tspan></text>
<text class="rg" y="1504.2"><tspan x="4706">first_name</tspan><tspan x="4849">CharField</tspan></text>
<text class="r" y="1521.6"><tspan x="4706">is_active</tspan><tspan x="4849">BooleanField</tspan></text>
<text class="r" y="1539.0"><tspan x="4706">is_staff</tspan><tspan x="4849">BooleanField</tspan></text>
<text class="ri" y="1556.4"><tspan x="4706">is_superuser</tspan><tspan x="4849">BooleanField</tspan></text>
<text class="rig" y="1573.7"><tspan x="4706">last_login</tspan><tspan x="4849">DateTimeField</tspan></text>
<text class="rg" y="1591.1"><tspan x="4706">last_name</tspan><tspan x="4849">CharField</tspan></text>
<text class="ri" y="1608.5"><tspan x="4706">password</tspan><tspan x="4849">CharField</tspan></text>
<text class="r" y="1625.8"><tspan x="4706">username</tspan><tspan x="4849">CharField</tspan></text>
</g>
<g id="node-Group">
<rect class="box" x="5025" y="1494" width="168" height="64.4"/><rect class="hd" x="5026" y="1495" width="166" height="29"/>
<text class="h" x="5118" y="1512.5">Group</text>
<text class="rb" y="1533.5"><tspan x="5046">id</tspan><tspan x="5116">AutoField</tspan></text>
<text class="r" y="1550.9"><tspan x="5046">name</tspan><tspan x="5116">CharField</tspan></text>
</g>
<g id="node-Permission">
<rect class="box" x="4983" y="1735" width="252" height="99.1"/><rect class="hd" x="4984" y="1736" width="250" height="29"/>
<text class="h" x="5118" y="1753.5">Permission</text>
<text class="rb" y="1774.5"><tspan x="5005">id</tspan><tspan x="5125">AutoField</tspan></text>
<text class="rb" y="1791.9"><tspan x="5005">content_type</tspan><tspan x="5125">ForeignKey (id)</tspan></text>
<text class="r" y="1809.2"><tspan x="5005">codename</tspan><tspan x="5125">CharField</tspan></text>
<text class="r" y="1826.6"><tspan x="5005">name</tspan><tspan x="5125">CharField</tspan></text>
</g>
<g id="node-PermissionsMixin">
<rect class="hbox" x="4302" y="1771" width="147" height="27"/>
<text class="h2" x="4375" y="1789">PermissionsMixin</text>
</g>
<g id="node-AbstractBaseUser">
<rect class="hbox" x="4494" y="1771" width="146" height="27"/>
<text class="h2" x="4567" y="1789">AbstractBaseUser</text>
</g>
<g id="node-ContentType">
<rect class="box" x="4386" y="1939" width="188" height="81.7"/><rect class="hd" x="4387" y="1940" width="186" height="29"/>
<text class="h" x="4489" y="1957.5">ContentType</text>
<text class="rb" y="1978.5"><tspan x="4409">id</tspan><tspan x="4497">AutoField</tspan></text>
<text class="r" y="1995.9"><tspan x="4409">app_label</tspan><tspan x="4497">CharField</tspan></text>
<text class="r" y="2013.2"><tspan x="4409">model</tspan><tspan x="4497">CharField</tspan></text>
</g>

<g id="node-Partial">
<rect class="box" x="5911" y="180" width="257" height="133.9"/><rect class="hd" x="5912" y="181" width="255" height="29"/>
<text class="h" x="6048.5" y="198.5">Partial</text>
<text class="rb" y="219.5"><tspan x="5933">id</tspan><tspan x="6025">AutoField</tspan></text>
<text class="r" y="236.9"><tspan x="5933">backend</tspan><tspan x="6025">CharField</tspan></text>
<text class="r" y="254.2"><tspan x="5933">data</tspan><tspan x="6025">JSONField</tspan></text>
<text class="r" y="271.6"><tspan x="5933">next_step</tspan><tspan x="6025">PositiveSmallIntegerField</tspan></text>
<text class="rg" y="289.0"><tspan x="5933">timestamp</tspan><tspan x="6025">DateTimeField</tspan></text>
<text class="r" y="306.4"><tspan x="5933">token</tspan><tspan x="6025">CharField</tspan></text>
</g>
<g id="node-Code">
<rect class="box" x="6214" y="189" width="205" height="116.5"/><rect class="hd" x="6215" y="190" width="203" height="29"/>
<text class="h" x="6325.5" y="207.5">Code</text>
<text class="rb" y="228.5"><tspan x="6236">id</tspan><tspan x="6328">AutoField</tspan></text>
<text class="r" y="245.9"><tspan x="6236">code</tspan><tspan x="6328">CharField</tspan></text>
<text class="r" y="263.2"><tspan x="6236">email</tspan><tspan x="6328">EmailField</tspan></text>
<text class="rg" y="280.6"><tspan x="6236">timestamp</tspan><tspan x="6328">DateTimeField</tspan></text>
<text class="r" y="298.0"><tspan x="6236">verified</tspan><tspan x="6328">BooleanField</tspan></text>
</g>
<g id="node-Association">
<rect class="box" x="6465" y="172" width="202" height="151.2"/><rect class="hd" x="6466" y="173" width="200" height="29"/>
<text class="h" x="6575" y="190.5">Association</text>
<text class="rb" y="211.5"><tspan x="6486">id</tspan><tspan x="6585">AutoField</tspan></text>
<text class="r" y="228.9"><tspan x="6486">assoc_type</tspan><tspan x="6585">CharField</tspan></text>
<text class="r" y="246.2"><tspan x="6486">handle</tspan><tspan x="6585">CharField</tspan></text>
<text class="r" y="263.6"><tspan x="6486">issued</tspan><tspan x="6585">IntegerField</tspan></text>
<text class="r" y="281.0"><tspan x="6486">lifetime</tspan><tspan x="6585">IntegerField</tspan></text>
<text class="r" y="298.4"><tspan x="6486">secret</tspan><tspan x="6585">CharField</tspan></text>
<text class="r" y="315.7"><tspan x="6486">server_url</tspan><tspan x="6585">CharField</tspan></text>
</g>
<g id="node-Nonce">
<rect class="box" x="6713" y="198" width="196" height="99.1"/><rect class="hd" x="6714" y="199" width="194" height="29"/>
<text class="h" x="6820" y="216.5">Nonce</text>
<text class="rb" y="237.5"><tspan x="6736">id</tspan><tspan x="6829">AutoField</tspan></text>
<text class="r" y="254.9"><tspan x="6736">salt</tspan><tspan x="6829">CharField</tspan></text>
<text class="r" y="272.2"><tspan x="6736">server_url</tspan><tspan x="6829">CharField</tspan></text>
<text class="r" y="289.6"><tspan x="6736">timestamp</tspan><tspan x="6829">IntegerField</tspan></text>
</g>
<g id="node-UserSocialAuth">
<rect class="box" x="6955" y="165" width="230" height="163.2"/><rect class="hd" x="6956" y="166" width="228" height="41"/>
<text class="h" x="7091" y="183">UserSocialAuth</text>
<text class="h" x="7057" y="196">&lt;<tspan font-style="italic">AbstractUserSocialAuth</tspan>&gt;</text>
<text class="rb" y="216.5"><tspan x="6978">id</tspan><tspan x="7075">AutoField</tspan></text>
<text class="rbi" y="233.9"><tspan x="6978">user</tspan><tspan x="7075">ForeignKey (id)</tspan></text>
<text class="rig" y="251.2"><tspan x="6978">created</tspan><tspan x="7075">DateTimeField</tspan></text>
<text class="ri" y="268.6"><tspan x="6978">extra_data</tspan><tspan x="7075">JSONField</tspan></text>
<text class="rig" y="286.0"><tspan x="6978">modified</tspan><tspan x="7075">DateTimeField</tspan></text>
<text class="ri" y="303.4"><tspan x="6978">provider</tspan><tspan x="7075">CharField</tspan></text>
<text class="ri" y="320.7"><tspan x="6978">uid</tspan><tspan x="7075">CharField</tspan></text>
</g>
<g id="node-AbstractUserSocialAuth">
<rect class="box" x="6425" y="623" width="247" height="133.9"/><rect class="hd" x="6426" y="624" width="245" height="29"/>
<text class="h" x="6557.5" y="641.5">AbstractUserSocialAuth</text>
<text class="rb" y="662.5"><tspan x="6446">user</tspan><tspan x="6544">ForeignKey (None)</tspan></text>
<text class="rg" y="679.9"><tspan x="6446">created</tspan><tspan x="6544">DateTimeField</tspan></text>
<text class="r" y="697.2"><tspan x="6446">extra_data</tspan><tspan x="6544">JSONField</tspan></text>
<text class="rg" y="714.6"><tspan x="6446">modified</tspan><tspan x="6544">DateTimeField</tspan></text>
<text class="r" y="732.0"><tspan x="6446">provider</tspan><tspan x="6544">CharField</tspan></text>
<text class="r" y="749.4"><tspan x="6446">uid</tspan><tspan x="6544">CharField</tspan></text>
</g>
<g id="node-StoreAddress">
<rect class="box" x="7238" y="146" width="227" height="203.3"/><rect class="hd" x="7239" y="147" width="225" height="29"/>
<text class="h" x="7360.5" y="164.5">StoreAddress</text>
<text class="rb" y="185.5"><tspan x="7262">id</tspan><tspan x="7383">AutoField</tspan></text>
<text class="r" y="202.9"><tspan x="7262">ShopID_GHN</tspan><tspan x="7383">IntegerField</tspan></text>
<text class="rg" y="220.2"><tspan x="7262">city</tspan><tspan x="7383">CharField</tspan></text>
<text class="rg" y="237.6"><tspan x="7262">district</tspan><tspan x="7383">CharField</tspan></text>
<text class="r" y="255.0"><tspan x="7262">height</tspan><tspan x="7383">IntegerField</tspan></text>
<text class="r" y="272.4"><tspan x="7262">insurance_value</tspan><tspan x="7383">IntegerField</tspan></text>
<text class="r" y="289.7"><tspan x="7262">length</tspan><tspan x="7383">IntegerField</tspan></text>
<text class="rg" y="307.1"><tspan x="7262">title</tspan><tspan x="7383">CharField</tspan></text>
<text class="r" y="324.5"><tspan x="7262">weight</tspan><tspan x="7383">IntegerField</tspan></text>
<text class="r" y="341.8"><tspan x="7262">width</tspan><tspan x="7383">IntegerField</tspan></text>
</g>
<g id="node-Session">
<rect class="box" x="7548" y="200" width="228" height="94.7"/><rect class="hd" x="7549" y="201" width="226" height="42"/>
<text class="h" x="7683" y="218">Session</text>
<text class="h" x="7650" y="231">&lt;<tspan font-style="italic">AbstractBaseSession</tspan>&gt;</text>
<text class="rbi" y="252.5"><tspan x="7571">session_key</tspan><tspan x="7686">CharField</tspan></text>
<text class="ri" y="269.9"><tspan x="7571">expire_date</tspan><tspan x="7686">DateTimeField</tspan></text>
<text class="ri" y="287.2"><tspan x="7571">session_data</tspan><tspan x="7686">TextField</tspan></text>
</g>
<g id="node-AbstractBaseSession">
<rect class="box" x="7551" y="657" width="222" height="64.4"/><rect class="hd" x="7552" y="658" width="220" height="29"/>
<text class="h" x="7671" y="675.5">AbstractBaseSession</text>
<text class="r" y="696.5"><tspan x="7574">expire_date</tspan><tspan x="7681">DateTimeField</tspan></text>
<text class="r" y="713.9"><tspan x="7574">session_data</tspan><tspan x="7681">TextField</tspan></text>
</g>
</svg>
